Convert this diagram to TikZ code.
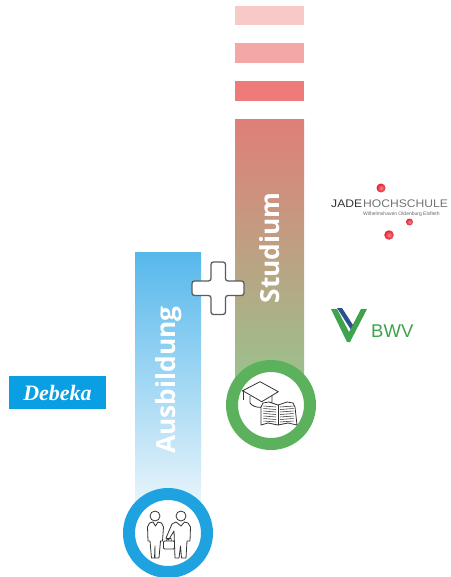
\documentclass[tikz,border=0pt]{standalone}
\usepackage{fontspec}
\setmainfont{Open Sans}
\newfontfamily\debekafont{Liberation Serif}
\newfontfamily\logofont{Liberation Sans}
\usetikzlibrary{shadings}
\definecolor{ringblue}{HTML}{1FA3E0}
\definecolor{ringgreen}{HTML}{5CB25C}
\definecolor{debekablue}{HTML}{0A9FE3}
\definecolor{bwvgreen}{HTML}{3FA34D}
\definecolor{bwvblue}{HTML}{2B4F8F}
\definecolor{iconline}{HTML}{333333}
\definecolor{jadered}{HTML}{E8202C}
\tikzset{
  x=1pt,y=-1pt,
  barlabel/.style={rotate=90,text=white,font=\fontsize{26.3}{26.3}\selectfont\bfseries,inner sep=0pt},
  ring/.style={circle,fill=white,line width=12pt,minimum size=78pt,inner sep=0pt},
  icon/.style={draw=iconline,line width=0.8pt,line join=round,fill=white},
  iconthin/.style={draw=iconline,line width=0.55pt},
  sphere/.style={circle,inner sep=0pt,inner color=jadered!55!white,outer color=jadered},
  stripe/.style={minimum width=69pt,minimum height=20pt,inner sep=0pt},
}
\begin{document}
\begin{tikzpicture}
\useasboundingbox (0,0) rectangle (450,577);
\fill[white] (0,0) rectangle (450,577);
% stripes
\node[stripe,fill={rgb,255:red,248;green,201;blue,198},minimum height=19pt] (s1) at (269.5,15.5) {};
\node[stripe,fill={rgb,255:red,244;green,168;blue,165}] (s2) at (269.5,53) {};
\node[stripe,fill={rgb,255:red,238;green,122;blue,122}] (s3) at (269.5,91) {};
% bars
\shade[top color={rgb,255:red,224;green,127;blue,120},bottom color={rgb,255:red,155;green,193;blue,140}] (235,120) rectangle (304,380);
\shade[top color={rgb,255:red,86;green,184;blue,235},bottom color={rgb,255:red,236;green,246;blue,252}] (135,252) rectangle (201,510);
% plus
\draw[draw=iconline!80,line width=1.3pt,fill=white,rounded corners=2.5pt]
 (211,262)--(225.5,262)--(225.5,281)--(244,281)--(244,295.5)--(225.5,295.5)--(225.5,314.5)--(211,314.5)--(211,295.5)--(192,295.5)--(192,281)--(211,281)--cycle;
% labels
\node[barlabel] (aus) at (169,380) {Ausbildung};
\node[barlabel] (stu) at (270,248) {Studium};
% rings
\node[ring,draw=ringblue] (r1) at (168,533) {};
\node[ring,draw=ringgreen] (r2) at (271,405) {};
% people icon
\draw[icon] (155,516) circle (5);
\draw[icon] (181,516) circle (5);
\draw[icon] (147.5,527)--(149.5,523)--(153,522)--(155.5,526)--(158,522)--(161.5,523)--(163.5,527)--(162.5,541)--(160.5,541)--(159,558)--(155,558)--(155,546)--(154.5,558)--(151.5,558)--(150,541)--(148,541)--cycle;
\draw[icon] (176,522)--(172,524)--(166,538)--(168.5,540)--(174,531)--(175,558)--(179,558)--(180.5,546)--(181.5,558)--(186,558)--(187,541)--(190,541)--(190.5,527)--(188,523)--(184.5,522)--(181,526)--cycle;
\draw[icon,rounded corners=1pt] (163.5,541) rectangle (174.5,549);
\draw[iconthin] (166.5,541)--(167,538.5)--(171,538.5)--(171.5,541);
% cap and book icon
\draw[icon] (250,396)--(250,403) .. controls (254,409) and (268,409) .. (272,402)--(272,396);
\draw[icon] (242.7,390.7)--(260,381.7)--(278.3,391.7)--(261.7,401.7)--cycle;
\draw[iconthin] (243,391)--(243,400);
\fill[iconline] (243,391) circle (1);
\draw[icon] (261,407)--(263,403)--(269,402)--(278,405)--(287,402)--(293,403)--(295,407)--(297,425)--(288,423)--(278,425)--(268,423)--(261,425)--cycle;
\draw[iconthin] (278,405)--(278,425);
\foreach \yy in {406,408.5,411,413.5,416,418.5,421}{
  \draw[iconthin] (263.5,\yy)--(276,\yy+1);
  \draw[iconthin] (280,\yy+1)--(293.5,\yy);
}
% Debeka
\node[fill=debekablue,minimum width=97pt,minimum height=33pt,inner sep=0pt,text=white,font=\debekafont\fontsize{22}{22}\selectfont\bfseries\itshape] (debeka) at (57.5,392.5) {Debeka};
% Jade
\node[inner sep=0pt,font=\logofont\fontsize{11}{11}\selectfont,text=black!80,anchor=west,xscale=1.1] (jade) at (331,203.5) {JADE};
\node[inner sep=0pt,font=\logofont\fontsize{11}{11}\selectfont,text=black!55,anchor=west,xscale=1.1] (hoch) at (363,203.5) {HOCHSCHULE};
\node[inner sep=0pt,font=\logofont\fontsize{5}{5}\selectfont,text=black!60,anchor=west] (sub) at (363,214) {Wilhelmshaven Oldenburg Elsfleth};
\node[sphere,minimum size=9pt] (b1) at (381,188) {};
\node[sphere,minimum size=7pt] (b2) at (409.5,222) {};
\node[sphere,minimum size=9.5pt] (b3) at (389,235) {};
% BWV
\fill[bwvgreen] (331,309)--(337,309)--(349,332)--(361,309)--(367,309)--(350,342)--(347,342)--cycle;
\fill[bwvblue] (337,308)--(342,308)--(353,325)--(350.5,329)--cycle;
\node[inner sep=0pt,font=\logofont\fontsize{18.5}{18.5}\selectfont,text=bwvgreen,anchor=west] (bwv) at (371,331.5) {BWV};
\end{tikzpicture}
\end{document}
